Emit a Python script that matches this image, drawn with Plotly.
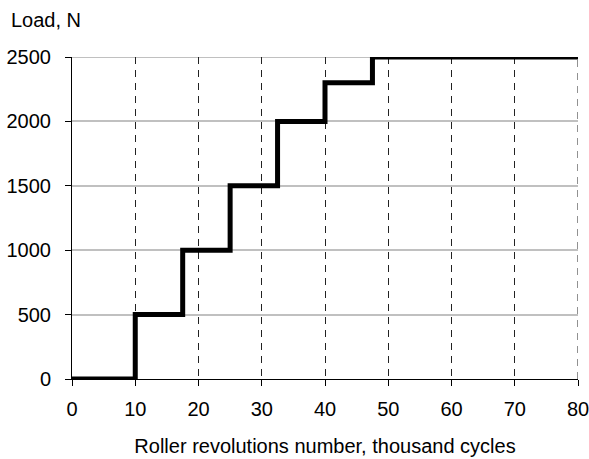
import plotly.graph_objects as go

cycles = [0, 10, 17.5, 25, 32.5, 40, 47.5, 80]
load = [0, 500, 1000, 1500, 2000, 2300, 2500, 2500]
x_ticks = [0, 10, 20, 30, 40, 50, 60, 70, 80]
y_ticks = [0, 500, 1000, 1500, 2000, 2500]

GRID_DASH = "7px,6px"
XGRID_COLOR = "#222222"
YGRID_COLOR = "#c0c0c0"

fig = go.Figure()
fig.add_trace(go.Scatter(
    x=cycles, y=load, mode="lines", line_shape="hv",
    line=dict(color="black", width=5), cliponaxis=False, showlegend=False,
))

# Plotly skips grid lines lying on the plot edges; draw the edge ones explicitly
fig.add_shape(type="line", xref="x", yref="paper", x0=x_ticks[-1], x1=x_ticks[-1], y0=0, y1=1,
              line=dict(color=XGRID_COLOR, width=1, dash=GRID_DASH), layer="between")
fig.add_shape(type="line", xref="paper", yref="y", x0=0, x1=1, y0=y_ticks[-1], y1=y_ticks[-1],
              line=dict(color=YGRID_COLOR, width=2), layer="between")

font = dict(family="Liberation Sans, Arial, sans-serif", size=20, color="black")
fig.update_layout(
    template="none",
    width=589, height=459,
    margin=dict(l=72, r=11, t=57, b=80, autoexpand=False),
    paper_bgcolor="white", plot_bgcolor="white",
    font=font,
    xaxis=dict(
        range=[0, 80], tickvals=x_ticks, ticks="outside", ticklen=6, tickcolor="black",
        ticklabelstandoff=6, ticklabeloverflow="allow", automargin=False,
        showline=True, linecolor="black", linewidth=1,
        showgrid=True, gridcolor=XGRID_COLOR, gridwidth=1, griddash=GRID_DASH,
        zeroline=False,
        title=dict(text="Roller revolutions number, thousand cycles", standoff=19, font=font),
    ),
    yaxis=dict(
        range=[0, 2500], tickvals=y_ticks, ticks="outside", ticklen=6, tickcolor="black",
        ticklabelstandoff=10, automargin=False,
        showline=True, linecolor="black", linewidth=1,
        showgrid=True, gridcolor=YGRID_COLOR, gridwidth=2,
        zeroline=False,
    ),
    annotations=[dict(
        text="Load, N", xref="paper", yref="paper", x=-0.1245, y=1.115,
        xanchor="left", yanchor="middle", showarrow=False, font=font,
    )],
)
fig.write_html(
    "out.html",
    config={"displayModeBar": False},
    post_script="document.body.style.margin='0px';document.body.style.overflow='hidden';",
)
